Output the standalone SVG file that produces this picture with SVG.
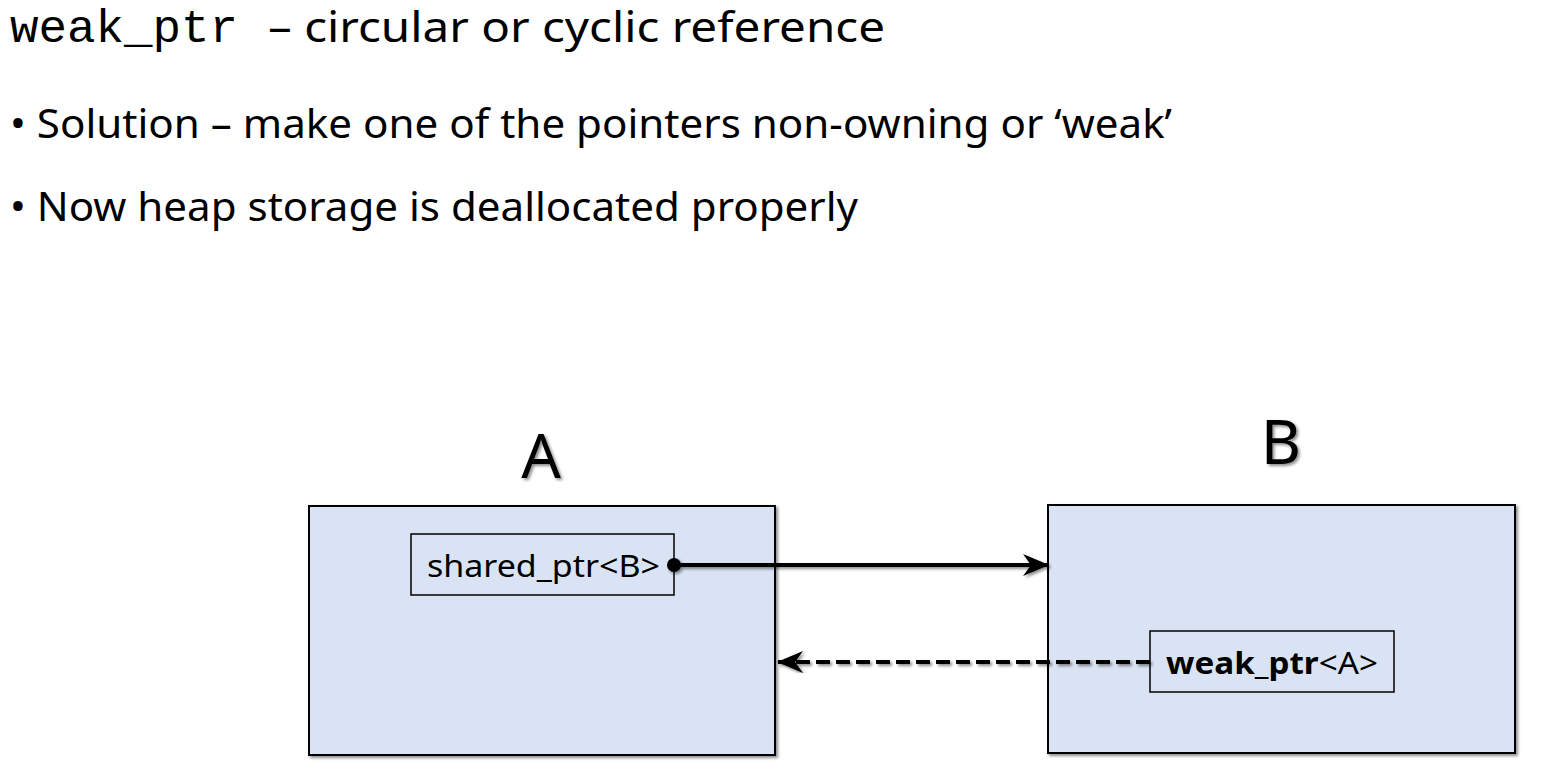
<svg xmlns="http://www.w3.org/2000/svg" width="1546" height="777" viewBox="0 0 1546 777">
<defs>
<filter id="sh" x="-10%" y="-10%" width="120%" height="120%">
<feDropShadow dx="2" dy="2" stdDeviation="1.5" flood-color="#000" flood-opacity="0.45"/>
</filter>
<marker id="arr" viewBox="0 0 26 24" refX="25" refY="12" markerWidth="26" markerHeight="24" markerUnits="userSpaceOnUse" orient="auto">
<path d="M0,1 L26,12 L0,23 L8,12 Z" fill="#000"/>
</marker>
</defs>
<style>
.t{font-family:"Noto Sans","Open Sans",sans-serif;fill:#000}
.box{fill:#DAE3F3;stroke:#000;stroke-width:2}
.lbl{font-family:"Noto Sans","Open Sans",sans-serif;font-size:62px;text-anchor:middle}
</style>
<rect width="1546" height="777" fill="#fff"/>
<g id="title">
<text x="10" y="42" font-family="'Liberation Mono', 'Courier New', monospace" font-size="46" fill="#000" textLength="228" lengthAdjust="spacingAndGlyphs">weak_ptr</text>
<text class="t" x="268" y="42" font-size="42" textLength="617" lengthAdjust="spacingAndGlyphs">– circular or cyclic reference</text>
</g>
<g id="bullets">
<text class="t" x="10" y="138" font-size="40" textLength="1162" lengthAdjust="spacingAndGlyphs">• Solution – make one of the pointers non-owning or ‘weak’</text>
<text class="t" x="10" y="221" font-size="40" textLength="848" lengthAdjust="spacingAndGlyphs">• Now heap storage is deallocated properly</text>
</g>
<g id="nodeA">
<text class="t lbl" x="541" y="478" filter="url(#sh)">A</text>
<rect class="box" x="309" y="506" width="466" height="249" filter="url(#sh)"/>
</g>
<g id="nodeB">
<text class="t lbl" x="1281" y="464" filter="url(#sh)">B</text>
<rect class="box" x="1048" y="505" width="467" height="248" filter="url(#sh)"/>
</g>
<g id="sharedA">
<rect x="411" y="534" width="263" height="61" fill="#DAE3F3" stroke="#000" stroke-width="1.5"/>
<text class="t" x="427" y="577" font-size="30" textLength="233" lengthAdjust="spacingAndGlyphs">shared_ptr&lt;B&gt;</text>
</g>
<g id="weakB">
<rect x="1150" y="631" width="244" height="61" fill="#DAE3F3" stroke="#000" stroke-width="1.5"/>
<text class="t" x="1166" y="674" font-size="30" textLength="212" lengthAdjust="spacingAndGlyphs"><tspan font-weight="bold">weak_ptr</tspan>&lt;A&gt;</text>
</g>
<g id="connectors" filter="url(#sh)">
<circle cx="674" cy="565" r="7" fill="#000"/>
<line x1="674" y1="565" x2="1048" y2="565" stroke="#000" stroke-width="4" marker-end="url(#arr)"/>
<line x1="1150" y1="662" x2="778" y2="662" stroke="#000" stroke-width="4" stroke-dasharray="14,6" marker-end="url(#arr)"/>
</g>
</svg>
